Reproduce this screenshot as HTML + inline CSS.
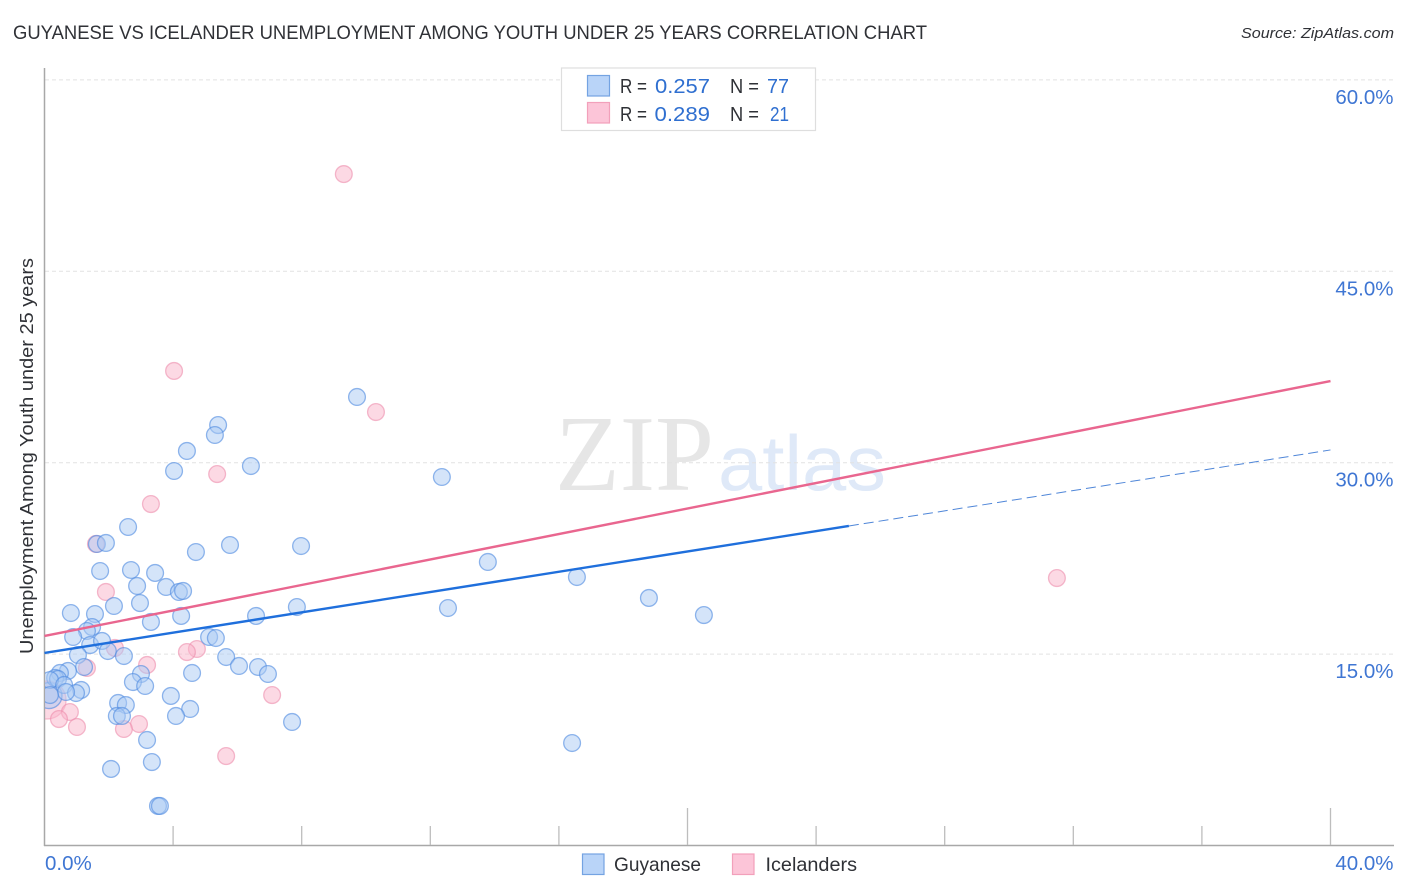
<!DOCTYPE html>
<html lang="en">
<head>
<meta charset="utf-8">
<title>Guyanese vs Icelander Unemployment Correlation Chart</title>
<style>
html,body{margin:0;padding:0;background:#fff;}
svg{display:block;font-family:"Liberation Sans",sans-serif;}
</style>
</head>
<body>
<svg id="chart" xmlns="http://www.w3.org/2000/svg" width="1406" height="892" viewBox="0 0 1406 892">
  <defs>
    <clipPath id="plot-clip"><rect x="45" y="60" width="1349" height="785"></rect></clipPath>
  </defs>
  <text x="13" y="39" font-size="19" fill="#2f3136" textLength="914" lengthAdjust="spacingAndGlyphs">GUYANESE VS ICELANDER UNEMPLOYMENT AMONG YOUTH UNDER 25 YEARS CORRELATION CHART</text>
  <text x="1241" y="38" font-size="15" font-style="italic" fill="#2f3136" textLength="153" lengthAdjust="spacingAndGlyphs">Source: ZipAtlas.com</text>
  <text x="555" y="490" font-family="'Liberation Serif',serif" font-size="108" fill="#e6e6e6" textLength="159" lengthAdjust="spacingAndGlyphs">ZIP</text>
  <text x="718" y="490" font-size="78" fill="#dfe9f8" textLength="168" lengthAdjust="spacingAndGlyphs">atlas</text>
  <g id="grid"></g>
  <g id="axes"></g>
  <g id="pts" clip-path="url(#plot-clip)"></g>
  <g id="trends"></g>
  <text transform="translate(33,654) rotate(-90)" font-size="18.5" fill="#2f3136" textLength="396" lengthAdjust="spacingAndGlyphs">Unemployment Among Youth under 25 years</text>
  <g>
    <rect x="561.5" y="68" width="254" height="62.5" fill="#fff" stroke="#dedede" stroke-width="1.2"></rect>
    <rect x="587.5" y="75.5" width="22" height="20.5" fill="#b9d4f8" stroke="#74a3e2" stroke-width="1.2"></rect>
    <rect x="587.5" y="102.5" width="22" height="20.5" fill="#fcc5d8" stroke="#f2a0bb" stroke-width="1.2"></rect>
    <g font-size="20.5">
      <text x="620" y="93" fill="#2f3136" textLength="27" lengthAdjust="spacingAndGlyphs">R =</text>
      <text x="655" y="93" fill="#2f6fd0" textLength="55" lengthAdjust="spacingAndGlyphs">0.257</text>
      <text x="730" y="93" fill="#2f3136" textLength="29" lengthAdjust="spacingAndGlyphs">N =</text>
      <text x="767" y="93" fill="#2f6fd0" textLength="22" lengthAdjust="spacingAndGlyphs">77</text>
      <text x="620" y="121" fill="#2f3136" textLength="27" lengthAdjust="spacingAndGlyphs">R =</text>
      <text x="654.5" y="121" fill="#2f6fd0" textLength="55.5" lengthAdjust="spacingAndGlyphs">0.289</text>
      <text x="730" y="121" fill="#2f3136" textLength="29" lengthAdjust="spacingAndGlyphs">N =</text>
      <text x="770" y="121" fill="#2f6fd0" textLength="19" lengthAdjust="spacingAndGlyphs">21</text>
    </g>
  </g>
  <g>
    <rect x="582.5" y="854" width="21.5" height="20.5" fill="#b9d4f8" stroke="#74a3e2" stroke-width="1.2"></rect>
    <text x="614" y="871" font-size="19.5" fill="#2f3136" textLength="87" lengthAdjust="spacingAndGlyphs">Guyanese</text>
    <rect x="732.5" y="854" width="21.5" height="20.5" fill="#fcc5d8" stroke="#f2a0bb" stroke-width="1.2"></rect>
    <text x="765.5" y="871" font-size="19.5" fill="#2f3136" textLength="91.5" lengthAdjust="spacingAndGlyphs">Icelanders</text>
  </g>
</svg>
<script>
const yTickValues = [15, 30, 45, 60];
const yTickLabels = ["15.0%", "30.0%", "45.0%", "60.0%"];
const xTickValues = [0, 4, 8, 12, 16, 20, 24, 28, 32, 36, 40];
const xMajorTicks = [20, 40];
const xEndValues = [0, 40];
const xEndLabels = ["0.0%", "40.0%"];

const guyaneseX = [5.40,5.30,4.43,4.03,6.42,9.72,12.36,2.60,1.63,1.91,4.71,5.77,7.98,13.79,1.73,2.69,3.44,2.88,3.78,4.18,4.31,16.56,18.80,20.51,12.55,7.85,6.58,2.97,2.16,1.57,0.82,3.31,4.25,1.48,1.32,0.89,1.42,1.79,1.97,1.04,2.47,5.12,5.33,5.65,6.05,6.64,6.95,1.23,0.73,0.48,0.33,0.42,0.17,0.61,1.14,0.98,0.67,0.17,3.00,2.75,3.13,4.59,3.93,2.29,2.53,2.25,2.41,4.53,4.09,7.70,3.19,16.41,3.34,2.07,3.53,3.59];
const guyaneseY = [32.95,32.17,30.92,29.35,29.74,35.15,28.88,24.96,23.63,23.71,23.00,23.55,23.47,22.22,21.51,21.59,21.36,20.34,20.26,19.87,19.95,21.04,19.40,18.06,18.61,18.69,17.99,19.00,18.77,18.14,18.22,17.52,17.99,17.12,16.81,16.34,15.71,16.03,15.24,14.93,14.85,16.34,16.26,14.77,14.07,13.99,13.44,13.99,13.68,13.52,13.13,13.05,12.97,12.58,12.19,11.95,12.03,11.79,13.44,12.81,12.50,13.52,11.72,11.17,11.01,10.15,10.15,10.70,10.15,9.68,8.27,8.03,6.54,6.00,3.10,3.10];
const guyaneseClusterX = [0.14];
const guyaneseClusterY = [11.75];

const icelandersX = [9.31,4.03,10.31,5.37,3.31,1.60,1.91,31.49,2.19,4.74,4.43,3.19,1.32,7.08,0.79,0.45,1.01,2.94,2.47,5.65];
const icelandersY = [52.62,37.19,33.97,29.11,26.76,23.63,19.87,20.96,15.48,15.40,15.16,14.15,13.91,11.79,10.46,9.91,9.29,9.52,9.13,7.01];
const icelandersClusterX = [0.08];
const icelandersClusterY = [11.40];

const guyaneseTrendSolidX = [0, 25.02];
const guyaneseTrendSolidY = [15.09, 25.04];
const guyaneseTrendDashedX = [25.02, 40];
const guyaneseTrendDashedY = [25.04, 31.00];
const icelandersTrendX = [0, 40];
const icelandersTrendY = [16.42, 36.40];

const NS = 'http://www.w3.org/2000/svg';
function xScale(v) { return 44.5 + v * 32.15; }
function yScale(v) { return 845.5 - v * 12.76; }
function make(tag, parent, attrs) {
  const el = document.createElementNS(NS, tag);
  for (const k in attrs) el.setAttribute(k, attrs[k]);
  parent.appendChild(el);
  return el;
}
const grid = document.getElementById('grid');
const axes = document.getElementById('axes');
const pts = document.getElementById('pts');
const trends = document.getElementById('trends');

yTickValues.forEach(function (v, i) {
  const line = make('line', grid, {x1: 45, x2: 1394, y1: yScale(v), y2: yScale(v), stroke: '#e2e2e2', 'stroke-width': 1, 'stroke-dasharray': '4 3'});
  
  
  const label = make('text', axes, {x: 1393.5, y: yScale(v) + 24, 'text-anchor': 'end', 'font-size': 20.5, fill: '#3f76d3'});
  
  
  label.textContent = yTickLabels[i];
});

const yAxis = make('line', axes, {x1: 44.5, x2: 44.5, y1: 68, y2: 846, stroke: '#a8a8a8', 'stroke-width': 1.5});


const xAxis = make('line', axes, {x1: 44, x2: 1394, y1: 845.5, y2: 845.5, stroke: '#a8a8a8', 'stroke-width': 1.5});



xTickValues.forEach(function (v) {
  if (v === 0) return;
  const top = xMajorTicks.indexOf(v) >= 0 ? 808 : 826;
  const tick = make('line', axes, {x1: xScale(v), x2: xScale(v), y1: top, y2: 845, stroke: '#bdbdbd', 'stroke-width': 1.3});
  
  
});

xEndValues.forEach(function (v, i) {
  const attrs = i === 0 ? {x: 45, 'text-anchor': 'start'} : {x: 1393.5, 'text-anchor': 'end'};
  attrs.y = 870;
  attrs['font-size'] = 20.5;
  attrs.fill = '#3f76d3';
  const label = make('text', axes, attrs);
  
  
  label.textContent = xEndLabels[i];
});

function drawSeries(xs, ys, r, fill, stroke, name) {
  xs.forEach(function (v, i) {
    const c = make('circle', pts, {cx: xScale(v), cy: yScale(ys[i]), r: r, fill: fill, 'fill-opacity': 0.5, stroke: stroke, 'stroke-opacity': 0.62, 'stroke-width': 1.3});
    
    
  });
}
drawSeries(icelandersClusterX, icelandersClusterY, 19, '#f9b4ca', '#f09ab5', 'icelanders-cluster');
drawSeries(icelandersX, icelandersY, 8.4, '#f9b4ca', '#ee8fae', 'icelanders');
drawSeries(guyaneseClusterX, guyaneseClusterY, 13, '#a9c9f4', '#4f8ae0', 'guyanese-cluster');
drawSeries(guyaneseX, guyaneseY, 8.4, '#a9c9f4', '#4f8ae0', 'guyanese');

const pinkTrend = make('line', trends, {x1: xScale(icelandersTrendX[0]), y1: yScale(icelandersTrendY[0]), x2: xScale(icelandersTrendX[1]), y2: yScale(icelandersTrendY[1]), stroke: '#e9668f', 'stroke-width': 2.4});


const blueTrend = make('line', trends, {x1: xScale(guyaneseTrendSolidX[0]), y1: yScale(guyaneseTrendSolidY[0]), x2: xScale(guyaneseTrendSolidX[1]), y2: yScale(guyaneseTrendSolidY[1]), stroke: '#1f6fdc', 'stroke-width': 2.4});


const blueDash = make('line', trends, {x1: xScale(guyaneseTrendDashedX[0]), y1: yScale(guyaneseTrendDashedY[0]), x2: xScale(guyaneseTrendDashedX[1]), y2: yScale(guyaneseTrendDashedY[1]), stroke: '#4f86d8', 'stroke-width': 1, 'stroke-dasharray': '10 5'});


</script>
</body>
</html>
